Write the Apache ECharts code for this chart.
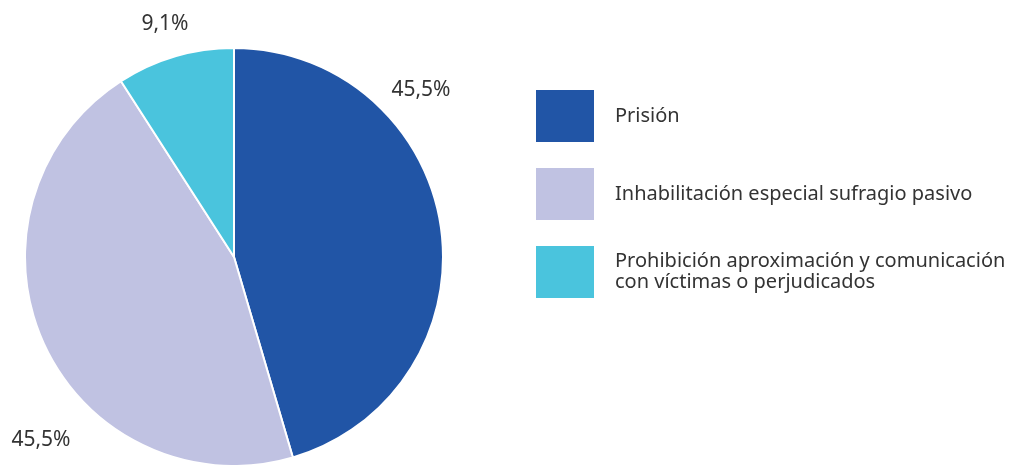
<!DOCTYPE html>
<html>
<head>
<meta charset="utf-8">
<script src="https://cdn.jsdelivr.net/npm/echarts@6/dist/echarts.min.js"></script>
<style>
html, body { margin: 0; padding: 0; background: #fff; }
#chart { width: 1009px; height: 465px; }
</style>
</head>
<body>
<div id="chart"></div>
<script>
'use strict';
// datos del gráfico
var categorias = ['Prisión', 'Inhabilitación especial sufragio pasivo', 'Prohibición aproximación y comunicación\ncon víctimas o perjudicados'];
var porcentajes = [45.5, 45.5, 9.1];
var colores = ['#2155A6', '#C0C2E2', '#4AC4DD'];
// posición de las etiquetas (centro del texto)
var posEtiquetas = [[421, 90], [41, 440], [165, 24]];

var chart = echarts.init(document.getElementById('chart'));

var serieData = categorias.map(function (nombre, i) {
	return { name: nombre, value: porcentajes[i], itemStyle: { color: colores[i] } };
});

var option = {
	animation: false,
	textStyle: { fontFamily: 'Noto Sans' },
	legend: {
		orient: 'vertical',
		left: 534,
		top: 88,
		padding: 0,
		itemWidth: 60,
		itemHeight: 54,
		itemGap: 22,
		icon: 'rect',
		selectedMode: false,
		textStyle: { fontSize: 20, color: '#333', fontFamily: 'Noto Sans', padding: [0, 0, 0, 15], lineHeight: 21 },
		data: categorias
	},
	series: [{
		type: 'pie',
		center: [234, 257],
		radius: 209,
		startAngle: 90,
		clockwise: true,
		silent: true,
		avoidLabelOverlap: false,
		itemStyle: { borderColor: '#fff', borderWidth: 2 },
		label: {
			show: true,
			position: 'inside',
			fontSize: 21,
			color: '#333',
			fontFamily: 'Noto Sans',
			formatter: function (p) {
				return p.value.toFixed(1).replace('.', ',') + '%';
			}
		},
		labelLine: { show: false },
		labelLayout: function (p) {
			var pos = posEtiquetas[p.dataIndex];
			return { x: pos[0], y: pos[1], align: 'center', verticalAlign: 'middle', hideOverlap: false };
		},
		data: serieData
	}]
};

chart.setOption(option);
</script>
</body>
</html>
